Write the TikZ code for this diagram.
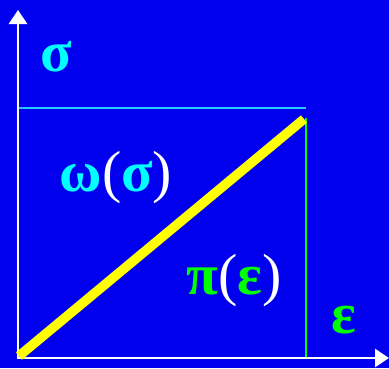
\documentclass[tikz,border=0pt]{standalone}
\usepackage{fontspec}
\setmainfont{Liberation Serif}
\usetikzlibrary{arrows.meta}
\definecolor{bg}{RGB}{0,0,238}
\definecolor{cy}{RGB}{0,255,255}
\definecolor{cyline}{RGB}{40,200,255}
\definecolor{gr}{RGB}{0,255,0}
\definecolor{ye}{RGB}{255,255,0}
\newcommand{\pwhite}[1]{\textcolor{white}{\mdseries #1}}
\tikzset{
  axis/.style={draw=white,line width=2.8pt,-{Triangle[length=14pt,width=18pt]}},
  lbl/.style={font=\fontsize{58}{60}\selectfont\bfseries,inner sep=0pt}
}
\begin{document}
\begin{tikzpicture}[x=1pt,y=-1pt]
\fill[bg] (0,0) rectangle (389,368);
\useasboundingbox (0,0) rectangle (389,368);
\coordinate (O) at (18,358);
\coordinate (Ytip) at (18,10);
\coordinate (Xtip) at (389,358);
\coordinate (S) at (18,108);
\coordinate (SE) at (306,108);
\coordinate (E) at (306,358);
\coordinate (Ptop) at (306,118);
\coordinate (L0) at (19,356);
\coordinate (L1) at (304,119);
\draw[draw=cyline,line width=2.5pt] (S) -- (SE);
\draw[draw=gr,line width=2.5pt] (Ptop) -- (E);
\draw[axis] (O) -- (Ytip);
\draw[axis] ([xshift=-1.4pt]O) -- (Xtip);
\draw[ye,line width=9.5pt] (L0) -- (L1);
\node[lbl,text=cy] (sig) at (56,57) {σ};
\node[lbl] (om) at (116,178) {\textcolor{cy}{ω}\pwhite{(}\textcolor{cy}{σ}\pwhite{)}};
\node[lbl] (pi) at (234,281) {\textcolor{gr}{π}\pwhite{(}\textcolor{gr}{ε}\pwhite{)}};
\node[lbl,text=gr] (eps) at (344,320) {ε};
\end{tikzpicture}
\end{document}
